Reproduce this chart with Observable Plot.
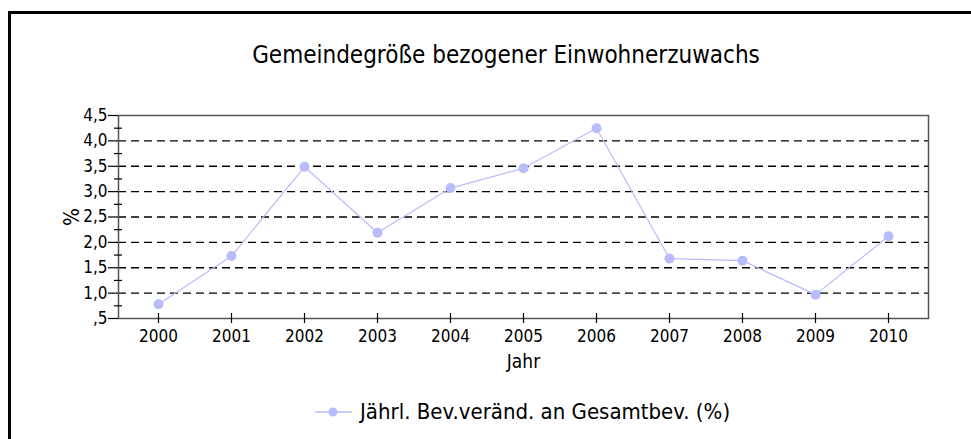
<!DOCTYPE html>
<html>
<head>
<meta charset="utf-8">
<script src="https://cdn.jsdelivr.net/npm/d3@7"></script>
<script src="https://cdn.jsdelivr.net/npm/@observablehq/plot@0.6"></script>
<style>
  html, body { margin: 0; padding: 0; background: #fff; }
  #wrap { position: relative; width: 971px; height: 439px; overflow: hidden; font-family: 'Liberation Sans Narrow', 'Arial Narrow', 'DejaVu Sans Condensed', sans-serif; color: #000; }
  #box { position: absolute; left: 8px; top: 11px; width: 1000px; height: 500px; border: 3px solid #000; box-sizing: border-box; }
  #title { position: absolute; left: 0; width: 1012px; top: 42px; text-align: center; font-size: 24px; line-height: 26px; white-space: nowrap; }
  #chart { position: absolute; left: 0; top: 0; }
  #legend { position: absolute; left: 315px; top: 399px; display: flex; align-items: center; font-size: 22px; line-height: 26px; white-space: nowrap; }
  #legend svg { margin-right: 8px; }
</style>
</head>
<body>
<div id="wrap">
  <div id="box"></div>
  <div id="title"></div>
  <div id="chart"></div>
  <div id="legend"></div>
</div>
<script>
const titleText = "Gemeindegröße bezogener Einwohnerzuwachs";
const seriesName = "Jährl. Bev.veränd. an Gesamtbev. (%)";
const xLabel = "Jahr";
const yLabel = "%";
const years = ["2000","2001","2002","2003","2004","2005","2006","2007","2008","2009","2010"];
const values = [0.78, 1.73, 3.49, 2.19, 3.07, 3.46, 4.25, 1.68, 1.64, 0.97, 2.12];
const yTicks = [0.5, 1.0, 1.5, 2.0, 2.5, 3.0, 3.5, 4.0, 4.5];
const yTickLabels = [",5", "1,0", "1,5", "2,0", "2,5", "3,0", "3,5", "4,0", "4,5"];
const yMinorTicks = [0.75, 1.25, 1.75, 2.25, 2.75, 3.25, 3.75, 4.25];
const gridValues = [1.0, 1.5, 2.0, 2.5, 3.0, 3.5, 4.0];
const lineColor = "#b9bcfc";

const data = years.map((y, i) => ({year: y, value: values[i]}));

document.getElementById("title").textContent = titleText;

const chart = Plot.plot({
  width: 971,
  height: 380,
  marginLeft: 118,
  marginRight: 43,
  marginTop: 115,
  marginBottom: 62,
  style: {fontFamily: "'Liberation Sans Narrow', 'Arial Narrow', 'DejaVu Sans Condensed', sans-serif", fontSize: "17px", color: "#000", background: "transparent", overflow: "visible"},
  x: {type: "point", domain: years, padding: 0.5},
  y: {domain: [0.5, 4.5]},
  marks: [
    Plot.ruleY(gridValues, {stroke: "#000", strokeWidth: 1.3, strokeDasharray: "8,5"}),
    Plot.frame({stroke: "#555", strokeWidth: 1.5}),
    Plot.axisY({ticks: yMinorTicks, tickSize: 8, dx: 4, tickFormat: () => "", label: null, strokeWidth: 1.2}),
    Plot.axisY({ticks: yTicks, tickSize: 10, tickPadding: 1, tickFormat: d => yTickLabels[yTicks.indexOf(d)], label: null, fontSize: 17, strokeWidth: 1.2}),
    Plot.axisY({ticks: [], tickSize: 0, label: yLabel, labelAnchor: "center", labelArrow: "none", labelOffset: 54, fontSize: 21}),
    Plot.axisX({tickSize: 10, dy: -5, tickFormat: () => "", label: null, strokeWidth: 1.2}),
    Plot.axisX({tickSize: 0, tickPadding: 11, label: null, fontSize: 17}),
    Plot.axisX({ticks: [], tickSize: 0, label: xLabel, labelAnchor: "center", labelArrow: "none", labelOffset: 49, fontSize: 19}),
    Plot.line(data, {x: "year", y: "value", stroke: lineColor, strokeWidth: 1.2}),
    Plot.dot(data, {x: "year", y: "value", fill: lineColor, r: 5})
  ]
});
document.getElementById("chart").appendChild(chart);

// legend
const leg = document.getElementById("legend");
const sw = d3.create("svg").attr("width", 37).attr("height", 12);
sw.append("line").attr("x1", 0).attr("x2", 37).attr("y1", 6).attr("y2", 6).attr("stroke", lineColor).attr("stroke-width", 1.5);
sw.append("circle").attr("cx", 18).attr("cy", 6).attr("r", 4.5).attr("fill", lineColor);
leg.appendChild(sw.node());
const span = document.createElement("span");
span.textContent = seriesName;
leg.appendChild(span);
</script>
</body>
</html>
